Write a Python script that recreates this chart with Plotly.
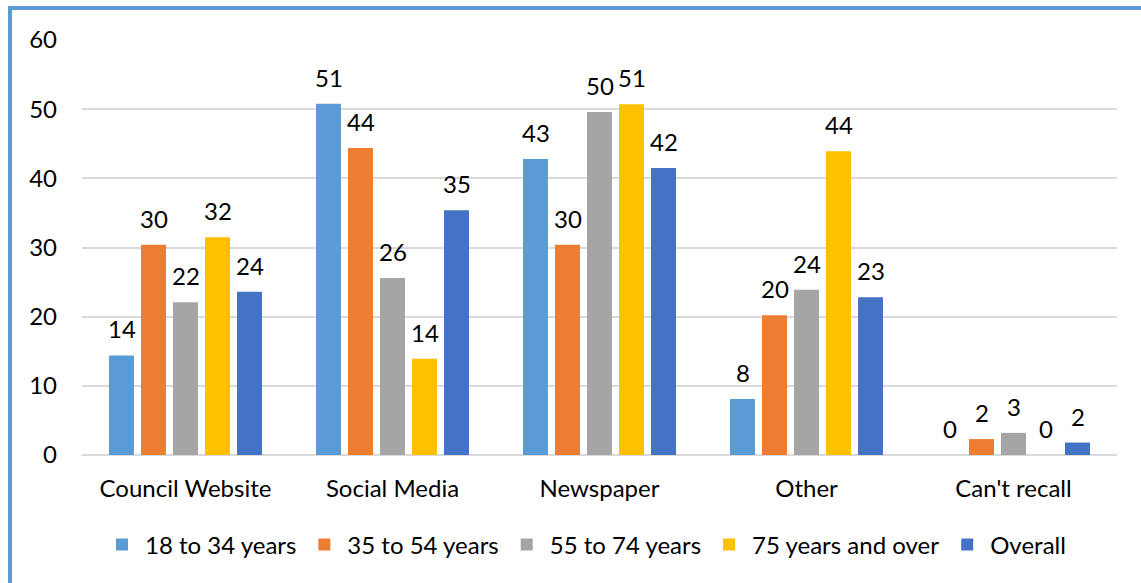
import plotly.graph_objects as go

categories = ["Council Website", "Social Media", "Newspaper", "Other", "Can't recall"]
series_names = ["18 to 34 years", "35 to 54 years", "55 to 74 years", "75 years and over", "Overall"]
age_18_34 = [14.4, 50.8, 42.8, 8.1, 0]
age_35_54 = [30.4, 44.4, 30.4, 20.2, 2.3]
age_55_74 = [22.1, 25.6, 49.6, 23.9, 3.2]
age_75_plus = [31.5, 13.9, 50.7, 43.9, 0]
overall = [23.6, 35.4, 41.5, 22.8, 1.8]
y_ticks = [0, 10, 20, 30, 40, 50, 60]

colors = ["#5B9BD5", "#ED7D31", "#A5A5A5", "#FFC000", "#4472C4"]
series_values = [age_18_34, age_35_54, age_55_74, age_75_plus, overall]

FONT = "Lato, 'Open Sans', sans-serif"
FS = 24

fig = go.Figure()
for name, vals, col in zip(series_names, series_values, colors):
    fig.add_trace(go.Bar(
        x=categories, y=vals, name=name,
        marker=dict(color=col, line=dict(width=0)),
        offsetgroup=name,
    ))

# value labels sit a little above each bar, offset within its group
n = len(series_names)
slot = (1 - 0.227) / n
for i, (vals, col) in enumerate(zip(series_values, colors)):
    dx = (i - (n - 1) / 2) * slot
    for j, v in enumerate(vals):
        fig.add_annotation(
            x=j + dx, y=v, xref="x", yref="y",
            text=f"{v:.0f}", showarrow=False,
            yanchor="bottom", yshift=10,
            font=dict(size=FS, family=FONT, color="#000000"),
        )

# plot area in pixels: x 82..1117, y 40..455
L, R, T, B = 82, 24, 40, 128
W, H = 1141, 583
pw, ph = W - L - R, H - T - B


def px_x(px):
    return (px - L) / pw


def px_y(py):
    return (H - B - py) / ph


border = "#5B9BD5"
fig.add_shape(type="line", xref="paper", yref="paper",
              x0=px_x(8), x1=px_x(1145), y0=px_y(8), y1=px_y(8),
              line=dict(color=border, width=4))
fig.add_shape(type="line", xref="paper", yref="paper",
              x0=px_x(10), x1=px_x(10), y0=px_y(6), y1=px_y(590),
              line=dict(color=border, width=4))

fig.update_layout(
    width=W, height=H,
    margin=dict(l=L, r=R, t=T, b=B),
    paper_bgcolor="white", plot_bgcolor="white",
    barmode="group", bargap=0.227, bargroupgap=0.22,
    font=dict(family=FONT, size=FS, color="#000000"),
    showlegend=True,
    legend=dict(orientation="h", x=0.486, xanchor="center", y=px_y(545), yanchor="middle",
                font=dict(size=FS, family=FONT), itemwidth=36,
                traceorder="normal"),
)
fig.update_xaxes(showgrid=False, showline=False, ticks="",
                 tickfont=dict(size=FS, family=FONT), ticklabelstandoff=17)
fig.update_yaxes(range=[0, 60], tickvals=y_ticks, showgrid=True,
                 gridcolor="#D9D9D9", gridwidth=1.5, zeroline=True,
                 zerolinecolor="#D9D9D9", zerolinewidth=1.5,
                 tickfont=dict(size=FS, family=FONT), ticks="",
                 ticklabelstandoff=24)

fig.write_html("out.html")
